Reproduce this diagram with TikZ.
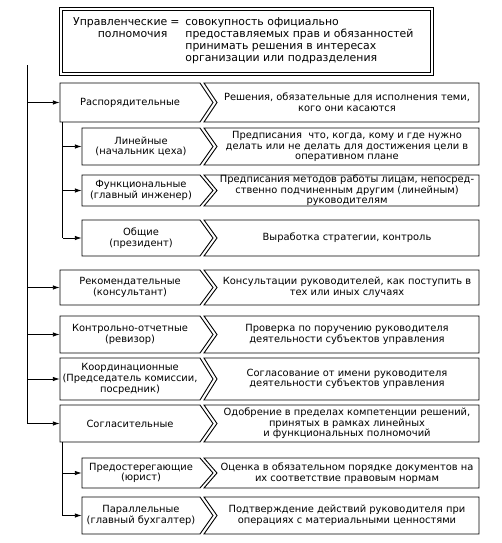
\documentclass[tikz,border=0pt]{standalone}
\usepackage{fontspec}
\setmainfont{DejaVu Sans}
\usetikzlibrary{arrows.meta,positioning}

\tikzset{
  box/.style={draw, line width=0.9pt},
  lbl/.style={inner sep=0pt, align=center, font=\fontsize{9.9}{10.6}\selectfont},
  arr/.style={-{Latex[length=7pt,width=4.5pt]}, line width=0.9pt},
  link/.style={line width=0.9pt},
}

% one row: name, left x, top y, bottom y, left text, right text
\newcommand{\permrow}[6]{%
  \pgfmathsetmacro{\rowmid}{(#3+#4)/2}
  \pgfmathsetmacro{\rowh}{#4-#3}
  \pgfmathsetmacro{\roww}{200-#2}
  \pgfmathsetmacro{\rowc}{(#2+200)/2}
  \draw[box] (#2,#3) -- (200,#3) -- (213,\rowmid) -- (200,#4) -- (#2,#4) -- cycle;
  \draw[box] (204,#3) -- (479,#3) -- (479,#4) -- (204,#4) -- (217,\rowmid) -- cycle;
  \node[lbl, minimum width=\roww pt, minimum height=\rowh pt] (#1) at (\rowc,\rowmid) {#5};
  \node[lbl] (#1-d) at (347,\rowmid) {#6};
}

\begin{document}
\begin{tikzpicture}[x=1pt,y=-1pt]
  \useasboundingbox (0,0) rectangle (502,543);

  % head
  \node[inner sep=0pt, minimum width=373pt, minimum height=67pt] (head) at (246.5,41.5) {};
  \draw[box, line width=1.1pt] (head.north west) rectangle (head.south east);
  \draw[box] ([shift={(3pt,-3pt)}]head.north west) rectangle ([shift={(-3pt,3pt)}]head.south east);
  \node[anchor=west, inner sep=0pt, font=\fontsize{10.9}{12}\selectfont] (headtext) at (73,41.5)
    {\begin{tabular}{@{}r@{\hspace{3pt}}c@{\hspace{6pt}}l@{}}
      Управленческие & = & совокупность официально\\
      полномочия & & предоставляемых прав и обязанностей\\
      & & принимать решения в интересах\\
      & & организации или подразделения
    \end{tabular}};

  % rows
  \permrow{r1}{60}{83}{122}{Распорядительные}{Решения, обязательные для исполнения теми,\\кого они касаются}
  \permrow{r2}{82}{128}{165}{Линейные\\(начальник цеха)}{Предписания~~что, когда, кому и где нужно\\делать или не делать для достижения цели в\\оперативном плане}
  \permrow{r3}{82}{175}{206}{Функциональные\\(главный инженер)}{Предписания методов работы лицам, непосред-\\ственно подчиненным другим (линейным)\\руководителям}
  \permrow{r4}{82}{220}{256}{Общие\\(президент)}{Выработка стратегии, контроль}
  \permrow{r5}{60}{270}{305}{Рекомендательные\\(консультант)}{Консультации руководителей, как поступить в\\тех или иных случаях}
  \permrow{r6}{60}{316}{353}{Контрольно-отчетные\\(ревизор)}{Проверка по поручению руководителя\\деятельности субъектов управления}
  \permrow{r7}{60}{358}{400}{Координационные\\(Председатель комиссии,\\посредник)}{Согласование от имени руководителя\\деятельности субъектов управления}
  \permrow{r8}{60}{405}{442}{Согласительные}{Одобрение в пределах компетенции решений,\\принятых в рамках линейных\\и функциональных полномочий}
  \permrow{r9}{82}{458}{488}{Предостерегающие\\(юрист)}{Оценка в обязательном порядке документов на\\их соответствие правовым нормам}
  \permrow{r10}{82}{497}{534}{Параллельные\\(главный бухгалтер)}{Подтверждение действий руководителя при\\операциях с материальными ценностями}

  % connectors
  \coordinate (trunk) at (27,65);
  \draw[link] (trunk) -- (trunk |- r8.west);
  \foreach \r in {r1,r5,r6,r7,r8}
    \draw[arr] (trunk |- \r.west) -- (\r.west);

  \coordinate (subA) at ([xshift=3pt]r1.south west);
  \draw[link] (subA) -- (subA |- r4.west);
  \foreach \r in {r2,r3,r4}
    \draw[arr] (subA |- \r.west) -- (\r.west);

  \coordinate (subB) at ([xshift=3pt]r8.south west);
  \draw[link] (subB) -- (subB |- r10.west);
  \foreach \r in {r9,r10}
    \draw[arr] (subB |- \r.west) -- (\r.west);
\end{tikzpicture}
\end{document}
